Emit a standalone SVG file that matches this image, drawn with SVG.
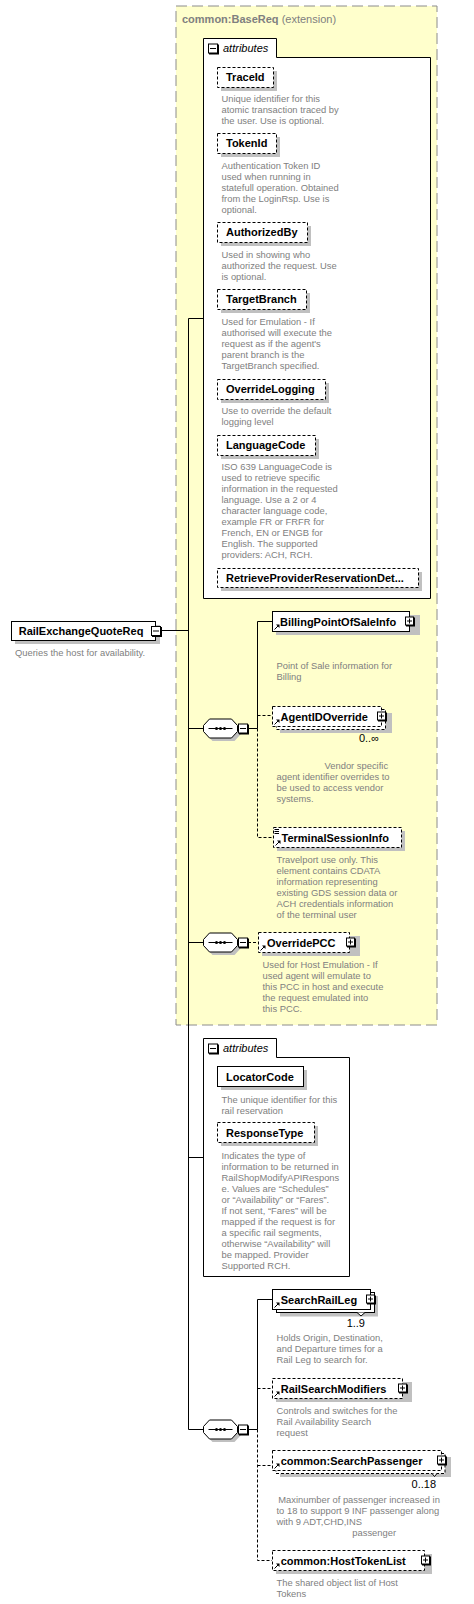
<svg xmlns="http://www.w3.org/2000/svg" xmlns:xlink="http://www.w3.org/1999/xlink" width="474" height="1604" viewBox="0 0 474 1604">
<style>
.lbl{font-family:"Liberation Sans",Arial,sans-serif;font-size:11px;font-weight:bold;fill:#000}
.d{font-family:"Liberation Sans",Arial,sans-serif;font-size:9.4px;fill:#808080}
.occ{font-family:"Liberation Sans","DejaVu Sans",Arial,sans-serif;font-size:11px;fill:#000}
.att{font-family:"Liberation Sans",Arial,sans-serif;font-size:11px;font-style:italic;fill:#000}
.box{fill:#fff;stroke:#000;stroke-width:1}
.opt{fill:#fff;stroke:#000;stroke-width:1;stroke-dasharray:3,2}
.sh{fill:#c0c0c0}
.con{fill:none;stroke:#000;stroke-width:1}
.dcon{fill:none;stroke:#000;stroke-width:1;stroke-dasharray:3,2}
.seq{fill:#fff;stroke:#000;stroke-width:1}
</style>
<defs>
<g id="minus"><rect x="1" y="1" width="10" height="10" fill="#000"/><rect x="0.5" y="0.5" width="9" height="9" fill="#fff" stroke="#000"/><path d="M2,5 H8" stroke="#000"/></g>
<g id="plus"><rect x="1" y="1" width="9" height="9" fill="#000"/><rect x="0.5" y="0.5" width="8" height="8" fill="#fff" stroke="#000"/><path d="M2,4.5 H7 M4.5,2 V7" stroke="#000"/></g>
<g id="ref"><path d="M0,0 L3.5,-3.5" stroke="#000" stroke-width="1"/><polygon points="1.5,-5 5,-5 5,-1.5" fill="#000"/></g>
<g id="seqshape">
<polygon points="3,0 9,-6.5 31,-6.5 37,0 37,6 31,12.5 9,12.5 3,6" class="sh"/>
<polygon points="0,-3 6,-9.5 28,-9.5 34,-3 34,3 28,9.5 6,9.5 0,3" class="seq"/>
<path d="M5,0 H29" stroke="#000"/>
<circle cx="13" cy="0" r="1.5" fill="#000"/><circle cx="17" cy="0" r="1.5" fill="#000"/><circle cx="21" cy="0" r="1.5" fill="#000"/>
</g>
</defs>
<rect width="474" height="1604" fill="#fff"/>

<g id="BaseReq_extension">
<rect x="176" y="6" width="261" height="1019" fill="#FFFFCC" stroke="#8c8c8c" stroke-dasharray="11,5"/>
<text x="182" y="22.5" font-family="Liberation Sans,Arial,sans-serif" font-size="11" fill="#808080"><tspan font-weight="bold">common:BaseReq</tspan> (extension)</text>
</g>

<g id="connectors">
<path class="con" d="M161,630.5 H188.5"/>
<path class="con" d="M188.5,318.5 V1429.5"/>
<path class="con" d="M188.5,318.5 H203 M188.5,728.5 H203 M188.5,942.5 H203 M188.5,1157.5 H203 M188.5,1429.5 H203"/>
<path class="con" d="M248,728.5 H257.5 M257.5,621.5 V728.5 M257.5,621.5 H272"/>
<path class="dcon" d="M257.5,715.5 H272 M257.5,728.5 V837.5 H273"/>
<path class="dcon" d="M248,942.5 H258"/>
<path class="con" d="M248,1429.5 H257.5 M257.5,1299.5 V1429.5 M257.5,1299.5 H272"/>
<path class="dcon" d="M257.5,1388.5 H272 M257.5,1465.5 H272 M257.5,1429.5 V1560.5 H272"/>
</g>

<g id="RailExchangeQuoteReq">
<rect class="sh" x="15" y="625" width="145" height="19"/>
<rect class="box" x="11.5" y="621.5" width="144" height="19"/>
<text class="lbl" x="18.7" y="634.5">RailExchangeQuoteReq</text>
<use xlink:href="#minus" x="151" y="626"/>
<text class="d" x="15" y="656">Queries the host for availability.</text>
</g>

<g id="attributes1">
<path d="M203.5,38.5 H276.5 V57.5 H430.5 V598.5 H203.5 Z" fill="#fff" stroke="#000"/>
<use xlink:href="#minus" x="208" y="43.5"/>
<text class="att" x="223" y="52">attributes</text>
</g>

<g id="TraceId">
<rect class="sh" x="221" y="71" width="56" height="20"/>
<rect class="opt" x="217.5" y="67.5" width="56" height="20"/>
<text class="lbl" x="226" y="81">TraceId</text>
<text class="d"><tspan x="221.5" y="102">Unique identifier for this</tspan><tspan x="221.5" y="113">atomic transaction traced by</tspan><tspan x="221.5" y="124">the user. Use is optional.</tspan></text>
</g>

<g id="TokenId">
<rect class="sh" x="221" y="137" width="59" height="20"/>
<rect class="opt" x="217.5" y="133.5" width="59" height="20"/>
<text class="lbl" x="226" y="147">TokenId</text>
<text class="d"><tspan x="221.5" y="169">Authentication Token ID</tspan><tspan x="221.5" y="180">used when running in</tspan><tspan x="221.5" y="191">statefull operation. Obtained</tspan><tspan x="221.5" y="202">from the LoginRsp. Use is</tspan><tspan x="221.5" y="213">optional.</tspan></text>
</g>

<g id="AuthorizedBy">
<rect class="sh" x="221" y="226" width="90" height="20"/>
<rect class="opt" x="217.5" y="222.5" width="90" height="20"/>
<text class="lbl" x="226" y="236">AuthorizedBy</text>
<text class="d"><tspan x="221.5" y="258">Used in showing who</tspan><tspan x="221.5" y="269">authorized the request. Use</tspan><tspan x="221.5" y="280">is optional.</tspan></text>
</g>

<g id="TargetBranch">
<rect class="sh" x="221" y="293" width="89" height="20"/>
<rect class="opt" x="217.5" y="289.5" width="89" height="20"/>
<text class="lbl" x="226" y="303">TargetBranch</text>
<text class="d"><tspan x="221.5" y="325">Used for Emulation - If</tspan><tspan x="221.5" y="336">authorised will execute the</tspan><tspan x="221.5" y="347">request as if the agent's</tspan><tspan x="221.5" y="358">parent branch is the</tspan><tspan x="221.5" y="369">TargetBranch specified.</tspan></text>
</g>

<g id="OverrideLogging">
<rect class="sh" x="221" y="383" width="108" height="20"/>
<rect class="opt" x="217.5" y="379.5" width="108" height="20"/>
<text class="lbl" x="226" y="393">OverrideLogging</text>
<text class="d"><tspan x="221.5" y="414">Use to override the default</tspan><tspan x="221.5" y="425">logging level</tspan></text>
</g>

<g id="LanguageCode">
<rect class="sh" x="221" y="439" width="98" height="20"/>
<rect class="opt" x="217.5" y="435.5" width="98" height="20"/>
<text class="lbl" x="226" y="449">LanguageCode</text>
<text class="d"><tspan x="221.5" y="470">ISO 639 LanguageCode is</tspan><tspan x="221.5" y="481">used to retrieve specific</tspan><tspan x="221.5" y="492">information in the requested</tspan><tspan x="221.5" y="503">language.  Use a 2 or 4</tspan><tspan x="221.5" y="514">character language code,</tspan><tspan x="221.5" y="525">example FR or FRFR for</tspan><tspan x="221.5" y="536">French, EN or ENGB for</tspan><tspan x="221.5" y="547">English.  The supported</tspan><tspan x="221.5" y="558">providers: ACH, RCH.</tspan></text>
</g>

<g id="RetrieveProviderReservationDetails">
<rect class="sh" x="221" y="572" width="201" height="19"/>
<rect class="opt" x="217.5" y="568.5" width="201" height="19"/>
<text class="lbl" x="226" y="582">RetrieveProviderReservationDet...</text>
</g>

<g id="BillingPointOfSaleInfo">
<rect class="sh" x="276" y="615" width="144" height="20"/>
<rect class="box" x="272.5" y="611.5" width="137" height="20"/>
<use xlink:href="#ref" x="274.5" y="629.5"/>
<text class="lbl" x="280" y="625.5">BillingPointOfSaleInfo</text>
<use xlink:href="#plus" x="405" y="616.5"/>
<text class="d"><tspan x="276.5" y="669">Point of Sale information for</tspan><tspan x="276.5" y="680">Billing</tspan></text>
</g>

<g id="sequence1">
<use xlink:href="#seqshape" x="203.5" y="728.5"/>
<use xlink:href="#minus" x="238" y="723.5"/>
</g>

<g id="AgentIDOverride">
<rect class="sh" x="280" y="713" width="112" height="20"/>
<rect class="opt" x="276.5" y="709.5" width="109" height="20"/>
<rect class="opt" x="272.5" y="706.5" width="109" height="20"/>
<use xlink:href="#ref" x="274.5" y="724.5"/>
<text class="lbl" x="280.5" y="720.5">AgentIDOverride</text>
<use xlink:href="#plus" x="377" y="711.5"/>
<text class="occ" x="379" y="742" text-anchor="end">0..∞</text>
<text class="d"><tspan x="324.5" y="769">Vendor specific</tspan><tspan x="276.5" y="780">agent identifier overrides to</tspan><tspan x="276.5" y="791">be used to access vendor</tspan><tspan x="276.5" y="802">systems.</tspan></text>
</g>

<g id="TerminalSessionInfo">
<rect class="sh" x="277" y="831" width="128" height="20"/>
<rect class="opt" x="273.5" y="827.5" width="128" height="20"/>
<path d="M274.5,829.5 H279 M274.5,831.5 H279 M274.5,833.5 H279" stroke="#000" stroke-width="1"/>
<use xlink:href="#ref" x="275.5" y="845.5"/>
<text class="lbl" x="281.5" y="841.5">TerminalSessionInfo</text>
<text class="d"><tspan x="276.5" y="863">Travelport use only. This</tspan><tspan x="276.5" y="874">element contains CDATA</tspan><tspan x="276.5" y="885">information representing</tspan><tspan x="276.5" y="896">existing GDS session data or</tspan><tspan x="276.5" y="907">ACH credentials information</tspan><tspan x="276.5" y="918">of the terminal user</tspan></text>
</g>

<g id="sequence2">
<use xlink:href="#seqshape" x="203.5" y="942.5"/>
<use xlink:href="#minus" x="238" y="937.5"/>
</g>

<g id="OverridePCC">
<rect class="sh" x="262" y="936" width="98" height="20"/>
<rect class="opt" x="258.5" y="932.5" width="91" height="20"/>
<use xlink:href="#ref" x="260.5" y="950.5"/>
<text class="lbl" x="267" y="946.5">OverridePCC</text>
<use xlink:href="#plus" x="346" y="937.5"/>
<text class="d"><tspan x="262.5" y="968">Used for Host Emulation - If</tspan><tspan x="262.5" y="979">used agent will emulate to</tspan><tspan x="262.5" y="990">this PCC in host and execute</tspan><tspan x="262.5" y="1001">the request emulated into</tspan><tspan x="262.5" y="1012">this PCC.</tspan></text>
</g>

<g id="attributes2">
<path d="M203.5,1038.5 H276.5 V1057.5 H349.5 V1276.5 H203.5 Z" fill="#fff" stroke="#000"/>
<use xlink:href="#minus" x="208" y="1043.5"/>
<text class="att" x="223" y="1052">attributes</text>
</g>

<g id="LocatorCode">
<rect class="sh" x="221" y="1070" width="86" height="20"/>
<rect class="box" x="217.5" y="1066.5" width="86" height="20"/>
<text class="lbl" x="226" y="1080.5">LocatorCode</text>
<text class="d"><tspan x="221.5" y="1103">The unique identifier for this</tspan><tspan x="221.5" y="1114">rail reservation</tspan></text>
</g>

<g id="ResponseType">
<rect class="sh" x="221" y="1126" width="97" height="20"/>
<rect class="opt" x="217.5" y="1122.5" width="97" height="20"/>
<text class="lbl" x="226" y="1136.5">ResponseType</text>
<text class="d"><tspan x="221.5" y="1158.5">Indicates the type of</tspan><tspan x="221.5" y="1169.5">information to be returned in</tspan><tspan x="221.5" y="1180.5">RailShopModifyAPIRespons</tspan><tspan x="221.5" y="1191.5">e.  Values are “Schedules”</tspan><tspan x="221.5" y="1202.5">or “Availability” or “Fares”.</tspan><tspan x="221.5" y="1213.5">If not sent, “Fares” will be</tspan><tspan x="221.5" y="1224.5">mapped if the request is for</tspan><tspan x="221.5" y="1235.5">a specific rail segments,</tspan><tspan x="221.5" y="1246.5">otherwise “Availability” will</tspan><tspan x="221.5" y="1257.5">be mapped. Provider</tspan><tspan x="221.5" y="1268.5">Supported RCH.</tspan></text>
</g>

<g id="SearchRailLeg">
<rect class="sh" x="280" y="1296" width="98" height="20.5"/>
<rect class="box" x="276.5" y="1292.5" width="98" height="20"/>
<rect class="box" x="272.5" y="1289.5" width="98" height="20"/>
<path d="M357,1312.5 L361,1316 L365,1312.5" fill="#fff" stroke="#000"/>
<use xlink:href="#ref" x="274.5" y="1307.5"/>
<text class="lbl" x="280.7" y="1303.5">SearchRailLeg</text>
<use xlink:href="#plus" x="366" y="1294.5"/>
<text class="occ" x="365" y="1327" text-anchor="end">1..9</text>
<text class="d"><tspan x="276.5" y="1341">Holds Origin, Destination,</tspan><tspan x="276.5" y="1352">and Departure times for a</tspan><tspan x="276.5" y="1363">Rail Leg to search for.</tspan></text>
</g>

<g id="RailSearchModifiers">
<rect class="sh" x="276" y="1382" width="136" height="20"/>
<rect class="opt" x="272.5" y="1378.5" width="130" height="20"/>
<use xlink:href="#ref" x="274.5" y="1396.5"/>
<text class="lbl" x="280.7" y="1392.5">RailSearchModifiers</text>
<use xlink:href="#plus" x="398" y="1383.5"/>
<text class="d"><tspan x="276.5" y="1414">Controls and switches for the</tspan><tspan x="276.5" y="1425">Rail Availability Search</tspan><tspan x="276.5" y="1436">request</tspan></text>
</g>

<g id="sequence3">
<use xlink:href="#seqshape" x="203.5" y="1429.5"/>
<use xlink:href="#minus" x="238" y="1424.5"/>
</g>

<g id="SearchPassenger">
<rect class="sh" x="280" y="1457" width="171" height="20"/>
<rect class="opt" x="276" y="1453.5" width="169" height="20"/>
<rect class="opt" x="272.5" y="1450.5" width="169" height="20"/>
<path d="M432,1473.5 L434.5,1476.5 L437,1473.5" fill="#fff" stroke="#000"/>
<use xlink:href="#ref" x="274.5" y="1468.5"/>
<text class="lbl" x="280.7" y="1464.5">common:SearchPassenger</text>
<use xlink:href="#plus" x="437" y="1455.5"/>
<text class="occ" x="436" y="1488" text-anchor="end">0..18</text>
<text class="d"><tspan x="278.3" y="1503">Maxinumber of passenger increased in</tspan><tspan x="276.5" y="1514">to 18 to support 9 INF passenger along</tspan><tspan x="276.5" y="1525">with 9 ADT,CHD,INS</tspan><tspan x="352.3" y="1536">passenger</tspan></text>
</g>

<g id="HostTokenList">
<rect class="sh" x="276" y="1554" width="156" height="20"/>
<rect class="opt" x="272.5" y="1550.5" width="152" height="20"/>
<use xlink:href="#ref" x="274.5" y="1568.5"/>
<text class="lbl" x="280.7" y="1564.5">common:HostTokenList</text>
<use xlink:href="#plus" x="421" y="1555.5"/>
<text class="d"><tspan x="276.5" y="1586">The shared object list of Host</tspan><tspan x="276.5" y="1597">Tokens</tspan></text>
</g>
</svg>
